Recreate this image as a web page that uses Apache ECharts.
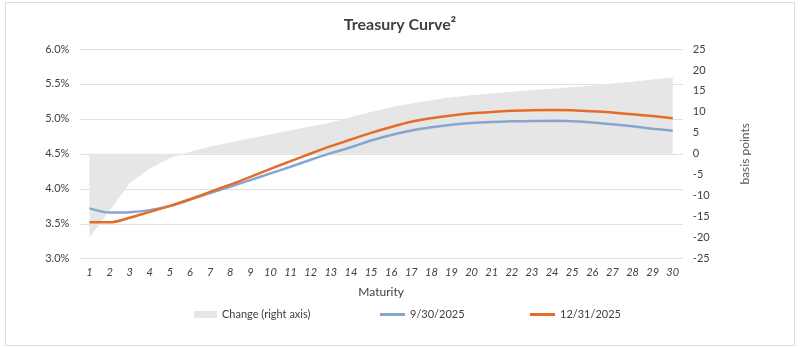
<!DOCTYPE html>
<html>
<head>
<meta charset="utf-8">
<script src="https://cdn.jsdelivr.net/npm/echarts@6/dist/echarts.min.js"></script>
<style>
html,body{margin:0;padding:0;background:#fff;}
#chart{width:800px;height:348px;}
</style>
</head>
<body>
<div id="chart"></div>
<script>
var maturities = ['1','2','3','4','5','6','7','8','9','10','11','12','13','14','15','16','17','18','19','20','21','22','23','24','25','26','27','28','29','30'];
var curveSep = [3.72,3.66,3.665,3.695,3.755,3.845,3.94,4.03,4.125,4.22,4.315,4.415,4.51,4.595,4.69,4.77,4.835,4.88,4.915,4.94,4.955,4.965,4.97,4.972,4.965,4.95,4.925,4.895,4.86,4.83];
var curveDec = [3.52,3.52,3.585,3.67,3.755,3.85,3.955,4.06,4.17,4.285,4.395,4.505,4.61,4.705,4.80,4.885,4.96,5.01,5.05,5.08,5.10,5.115,5.125,5.128,5.125,5.11,5.09,5.065,5.04,5.01];
var changeBp = [-20,-13.5,-7,-3.5,-1,0.5,1.7,2.7,3.7,4.6,5.6,6.5,7.5,8.8,10.0,11.1,12.0,12.8,13.5,14.0,14.4,14.8,15.2,15.5,15.9,16.3,16.8,17.2,17.7,18.2];
var leftTicks = {min:3, max:6, interval:0.5};
var rightTicks = {min:-25, max:25, interval:5};

var FONT = 'Lato, "Open Sans", sans-serif';
var chart = echarts.init(document.getElementById('chart'), null, {renderer:'canvas'});
var legendText = {color:'#404040', fontSize:11, fontFamily:FONT};
chart.setOption({
  animation:false,
  backgroundColor:'#ffffff',
  graphic:[{type:'rect', shape:{x:5.5,y:2.5,width:789,height:343}, style:{fill:'none', stroke:'#dcdcdc', lineWidth:1}, silent:true}],
  title:{text:'Treasury Curve²', left:'center', top:12, textStyle:{color:'#404040', fontSize:16, fontWeight:'bold', fontFamily:FONT}},
  legend:[
    {data:[{name:'Change (right axis)', icon:'rect'}], left:189, top:304, itemWidth:23, itemHeight:7, textStyle:legendText, selectedMode:false},
    {data:[{name:'9/30/2025', icon:'rect'}], left:375, top:304, itemWidth:25, itemHeight:3, textStyle:legendText, selectedMode:false},
    {data:[{name:'12/31/2025', icon:'rect'}], left:525, top:304, itemWidth:25, itemHeight:3, textStyle:legendText, selectedMode:false}
  ],
  grid:{left:79.4, right:117.2, top:49, bottom:89.3, containLabel:false},
  xAxis:{
    type:'category', data:maturities, boundaryGap:true,
    name:'Maturity', nameLocation:'middle', nameGap:27,
    nameTextStyle:{color:'#404040', fontSize:12, fontFamily:FONT},
    axisLine:{show:false}, axisTick:{show:false},
    axisLabel:{color:'#404040', fontSize:11, fontStyle:'italic', fontFamily:FONT, margin:8, interval:0}
  },
  yAxis:[
    {type:'value', min:leftTicks.min, max:leftTicks.max, interval:leftTicks.interval, position:'left',
     axisLine:{show:false}, axisTick:{show:false},
     axisLabel:{color:'#404040', fontSize:11, fontFamily:FONT, margin:10, formatter:function(v){return v.toFixed(1)+'%';}},
     splitLine:{lineStyle:{color:'#e0e0e0', width:1}}},
    {type:'value', min:rightTicks.min, max:rightTicks.max, interval:rightTicks.interval, position:'right',
     name:'basis points', nameLocation:'middle', nameRotate:90, nameGap:56,
     nameTextStyle:{color:'#595959', fontSize:12, fontFamily:FONT},
     axisLine:{show:false}, axisTick:{show:false}, splitLine:{show:false},
     axisLabel:{color:'#404040', fontSize:11, fontFamily:FONT, margin:10, align:'left'}}
  ],
  series:[
    {name:'Change (right axis)', type:'line', yAxisIndex:1, data:changeBp, symbol:'none',
     lineStyle:{width:0, color:'#e6e6e6'}, itemStyle:{color:'#e6e6e6'}, areaStyle:{color:'#e6e6e6', opacity:1}, z:1},
    {name:'9/30/2025', type:'line', yAxisIndex:0, data:curveSep, symbol:'none', smooth:0.3,
     lineStyle:{width:2.5, color:'#88a6cd'}, itemStyle:{color:'#88a6cd'}, z:3},
    {name:'12/31/2025', type:'line', yAxisIndex:0, data:curveDec, symbol:'none', smooth:0.3,
     lineStyle:{width:2.5, color:'#e46c28'}, itemStyle:{color:'#e46c28'}, z:4}
  ]
});
</script>
</body>
</html>
